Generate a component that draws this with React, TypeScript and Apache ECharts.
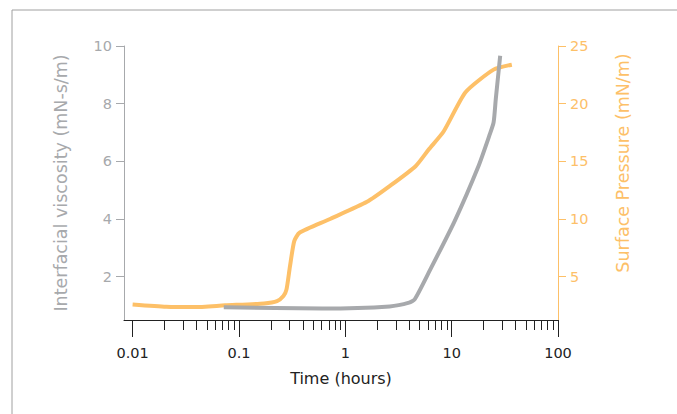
import React, { useEffect, useRef } from "react";
import * as echarts from "echarts";

const viscX = [0.072, 0.61, 2.61, 3.98, 4.5, 6.08, 10.7, 17.9, 22.6, 24.8, 26.0, 28.6];
const viscY = [0.94, 0.9, 0.97, 1.1, 1.22, 2.14, 3.94, 5.84, 6.89, 7.35, 8.16, 9.66];
const presX = [0.01, 0.0207, 0.038, 0.074, 0.172, 0.228, 0.262, 0.28, 0.302, 0.331, 0.371, 0.7, 1.6, 2.61, 4.58, 6.08, 8.43, 13.5, 24.8, 36.8];
const presY = [2.6, 2.4, 2.37, 2.52, 2.69, 2.89, 3.33, 3.9, 5.92, 8.09, 8.81, 9.96, 11.49, 12.85, 14.58, 16.02, 17.61, 20.99, 22.95, 23.38];
const majorTicks = [0.01, 0.1, 1, 10, 100];
const minorTicks: number[] = [];
[0.01, 0.1, 1, 10].forEach((d) => { for (let k = 2; k <= 9; k++) minorTicks.push(+(d * k).toPrecision(3)); });
const leftTicks = [2, 4, 6, 8, 10];
const rightTicks = [5, 10, 15, 20, 25];

const GREY = "#a7a9ac";
const ORANGE = "#fdc068";
const FONT = "DejaVu Sans";

export default function App() {
  const ref = useRef<HTMLDivElement>(null);
  useEffect(() => {
    const chart = echarts.init(ref.current!, null, { renderer: "svg" });
    const baseX = {
      type: "log", min: 0.0083, max: 100, logBase: 10,
      splitLine: { show: false }, axisLine: { show: false }, position: "bottom",
    };
    chart.setOption({
      animation: false,
      textStyle: { fontFamily: FONT },
      graphic: [{ type: "rect", shape: { x: 12, y: 10, width: 700, height: 420 }, style: { fill: "none", stroke: "#a0a0a0", lineWidth: 1 } }],
      grid: { left: 124, right: 119, top: 46, bottom: 94 },
      xAxis: [
        { ...baseX, axisLine: { show: true, lineStyle: { color: "#222", width: 1 } },
          axisTick: { show: true, length: 17, customValues: majorTicks, lineStyle: { color: "#222" } },
          axisLabel: { customValues: majorTicks, color: "#222", fontSize: 14.5, margin: 25, formatter: (v: number) => String(v) },
          name: "Time (hours)", nameLocation: "middle", nameGap: 50, nameTextStyle: { color: "#222", fontSize: 16 } },
        { ...baseX, axisTick: { show: true, length: 10, customValues: minorTicks, lineStyle: { color: "#222" } }, axisLabel: { show: false } },
      ],
      yAxis: [
        { type: "value", min: 0.5, max: 10, position: "left", splitLine: { show: false },
          axisLine: { show: true, lineStyle: { color: GREY } },
          axisTick: { show: true, length: 8, customValues: leftTicks, lineStyle: { color: GREY } },
          axisLabel: { customValues: leftTicks, color: GREY, fontSize: 14.5, margin: 12 },
          name: "Interfacial viscosity (mN-s/m)", nameLocation: "middle", nameGap: 54, nameRotate: 90,
          nameTextStyle: { color: GREY, fontSize: 17.5 } },
        { type: "value", min: 1.25, max: 25, position: "right", splitLine: { show: false },
          axisLine: { show: true, lineStyle: { color: ORANGE } },
          axisTick: { show: true, length: 8, customValues: rightTicks, lineStyle: { color: ORANGE } },
          axisLabel: { customValues: rightTicks, color: ORANGE, fontSize: 14.5, margin: 12 },
          name: "Surface Pressure (mN/m)", nameLocation: "middle", nameGap: 56, nameRotate: 90,
          nameTextStyle: { color: ORANGE, fontSize: 17.5, padding: [0, 0, 0, 40] } },
      ],
      series: [
        { type: "line", xAxisIndex: 0, yAxisIndex: 1, data: presX.map((x, i) => [x, presY[i]]), showSymbol: false, smooth: 0.2, lineStyle: { color: ORANGE, width: 4 } },
        { type: "line", xAxisIndex: 0, yAxisIndex: 0, data: viscX.map((x, i) => [x, viscY[i]]), showSymbol: false, smooth: 0.2, lineStyle: { color: GREY, width: 4 } },
      ],
    });
    return () => chart.dispose();
  }, []);
  return <div ref={ref} style={{ position: "absolute", left: 0, top: 0, width: 677, height: 414 }} />;
}
